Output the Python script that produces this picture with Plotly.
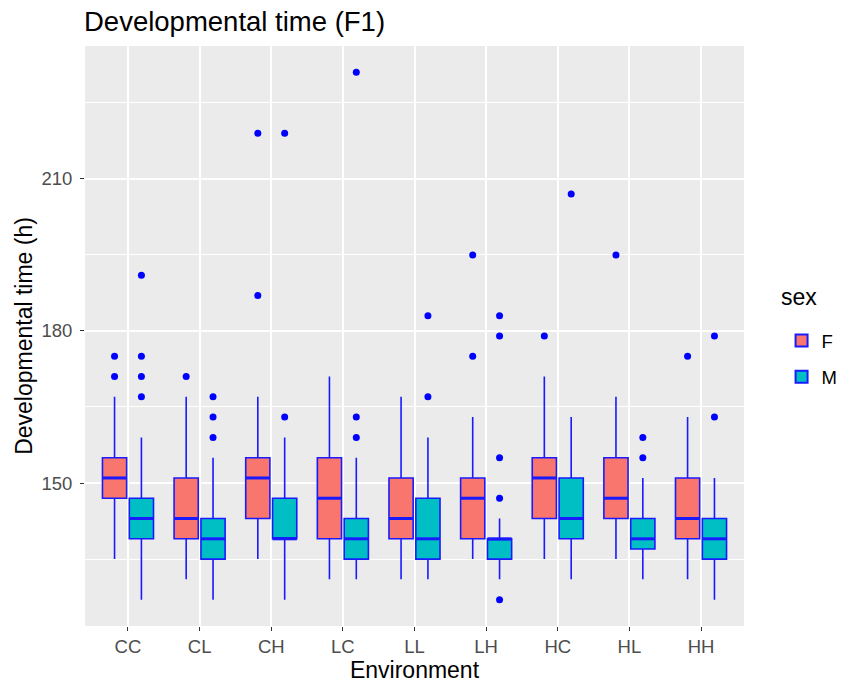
import plotly.graph_objects as go

environments = ["CC", "CL", "CH", "LC", "LL", "LH", "HC", "HL", "HH"]

# Female (F) box statistics
f_lower = [135, 131, 135, 131, 131, 135, 135, 135, 131]
f_q1 = [147, 139, 143, 139, 139, 139, 143, 143, 139]
f_median = [151, 143, 151, 147, 143, 147, 151, 147, 143]
f_q3 = [155, 151, 155, 155, 151, 151, 155, 155, 151]
f_upper = [167, 167, 167, 171, 167, 163, 171, 167, 163]
f_outliers = [[171, 175], [171], [187, 219], [], [], [175, 195], [179], [195], [175]]

# Male (M) box statistics
m_lower = [127, 127, 127, 131, 131, 131, 131, 131, 127]
m_q1 = [139, 135, 139, 135, 135, 135, 139, 137, 135]
m_median = [143, 139, 139, 139, 139, 139, 143, 139, 139]
m_q3 = [147, 143, 147, 143, 147, 139, 151, 143, 143]
m_upper = [159, 155, 159, 155, 159, 143, 163, 151, 151]
m_outliers = [[167, 171, 175, 191], [159, 163, 167], [163, 219], [159, 163, 231],
              [167, 183], [127, 147, 155, 179, 183], [207], [155, 159], [163, 179]]

F_COLOR = "#F8766D"
M_COLOR = "#00BFC4"
LINE = "#1a1aff"
BOXGAP = 0.25
GROUPGAP = 0.1
FONT = "Liberation Sans, Arial, sans-serif"

pos = list(range(len(environments)))
fig = go.Figure()

series = [
    ("F", F_COLOR, f_lower, f_q1, f_median, f_q3, f_upper, f_outliers, 0),
    ("M", M_COLOR, m_lower, m_q1, m_median, m_q3, m_upper, m_outliers, 1),
]
n = len(series)
for name, col, lo, q1, med, q3, hi, outl, k in series:
    fig.add_trace(go.Box(
        x=pos, q1=q1, median=med, q3=q3, lowerfence=lo, upperfence=hi,
        name=name, legendgroup=name, fillcolor=col, line=dict(color=LINE, width=1.6),
        whiskerwidth=0, boxpoints=False, hoverinfo="skip",
    ))

for name, col, lo, q1, med, q3, hi, outl, k in series:
    off = 2 * 0.5 * (-0.5 + (k + 0.5) / n) * (1 - BOXGAP)
    half = 0.5 * (1 - BOXGAP) * (1 - GROUPGAP) / n
    # thicker median lines (ggplot style)
    mx, my = [], []
    for p, m in zip(pos, med):
        mx += [p + off - half, p + off + half, None]
        my += [m, m, None]
    fig.add_trace(go.Scatter(x=mx, y=my, mode="lines", line=dict(color=LINE, width=3),
                             showlegend=False, hoverinfo="skip", legendgroup=name))
    ox, oy = [], []
    for p, vals in zip(pos, outl):
        for v in vals:
            ox.append(p + off)
            oy.append(v)
    fig.add_trace(go.Scatter(x=ox, y=oy, mode="markers",
                             marker=dict(color="blue", size=7),
                             showlegend=False, hoverinfo="skip", legendgroup=name))

fig.update_layout(
    width=844, height=689,
    margin=dict(l=85, r=100, t=46, b=63, autoexpand=False),
    paper_bgcolor="white", plot_bgcolor="#EBEBEB",
    boxmode="group", boxgap=BOXGAP, boxgroupgap=GROUPGAP,
    font=dict(family=FONT, color="#4D4D4D"),
    title=dict(text="Developmental time (F1)", x=84 / 844, xanchor="left", xref="container",
               y=1 - 21 / 689, yanchor="middle", yref="container",
               font=dict(size=27.5, color="black")),
    legend=dict(x=1.057, xanchor="left", y=0.524, yanchor="top",
                font=dict(size=18.5, color="black"), bgcolor="white",
                tracegroupgap=9, itemsizing="constant"),
    annotations=[dict(text="sex", xref="paper", yref="paper", x=1.053, y=0.567,
                      xanchor="left", yanchor="middle", showarrow=False,
                      font=dict(size=23, color="black", family=FONT))],
    showlegend=True,
)
fig.update_xaxes(
    range=[-0.6, 8.6], tickmode="array", tickvals=pos, ticktext=environments,
    showgrid=True, gridcolor="white", gridwidth=1.5, zeroline=False,
    ticks="outside", ticklen=4, tickcolor="#333333", tickwidth=1,
    tickfont=dict(size=18.5, color="#4D4D4D"),
    title=dict(text="Environment", font=dict(size=23, color="black"), standoff=2),
)
fig.update_yaxes(
    range=[121.8, 236.2], tickmode="array", tickvals=[150, 180, 210],
    showgrid=True, gridcolor="white", gridwidth=1.5, zeroline=False,
    ticks="outside", ticklen=4, tickcolor="#333333", tickwidth=1,
    ticklabelstandoff=4,
    tickfont=dict(size=18.5, color="#4D4D4D"),
    minor=dict(tickmode="array", tickvals=[135, 165, 195, 225], showgrid=True,
               gridcolor="white", gridwidth=0.7, ticks=""),
    title=dict(text="Developmental time (h)", font=dict(size=23, color="black"), standoff=2),
)

fig.write_html("out.html")
